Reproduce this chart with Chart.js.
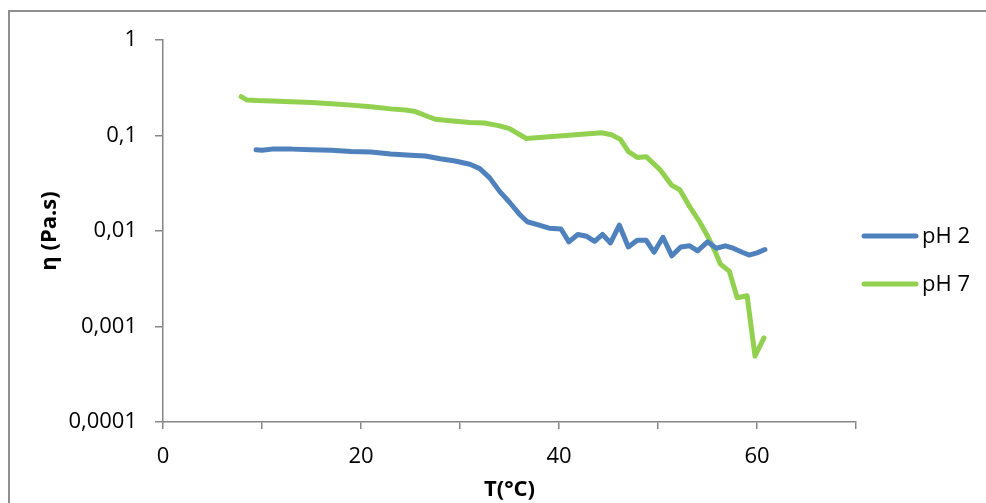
<!DOCTYPE html>
<html>
<head>
<meta charset="utf-8">
<script src="https://cdn.jsdelivr.net/npm/chart.js@4.4.1/dist/chart.umd.min.js"></script>
<style>
  html, body { margin: 0; padding: 0; background: #fff; }
  #wrap { position: relative; width: 986px; height: 503px; overflow: hidden; }
  #frame { position: absolute; left: 8px; top: 10px; width: 1000px; height: 600px; border: 2px solid #8f8f8f; box-sizing: border-box; }
  #viscoChart { position: absolute; left: 0; top: 0; }
</style>
</head>
<body>
<div id="wrap">
  <div id="frame"></div>
  <canvas id="viscoChart" width="986" height="503"></canvas>
</div>
<script>
/*
  viscosity vs temperature, pH 2 and pH 7
*/

const seriesNames = ['pH 2', 'pH 7']

// pH 2 curve
const tempPH2 = [9.4, 10, 11, 13, 15, 17, 19, 21, 23, 25, 26.5, 28, 29.5, 31, 32, 33, 34, 35, 36, 36.8,
    38, 39, 40.2, 41, 41.9, 42.8, 43.6, 44.4, 45.2, 46.1, 47, 47.9, 48.8, 49.6, 50.5, 51.4, 52.3,
    53.2, 54, 55, 55.9, 56.8, 57.6, 58.5, 59.2, 60, 60.8]
const etaPH2 = [0.071, 0.070, 0.072, 0.072, 0.071, 0.070, 0.068, 0.067, 0.064, 0.062, 0.061, 0.057, 0.054,
    0.050, 0.045, 0.036, 0.026, 0.020, 0.015, 0.0125, 0.0115, 0.0107, 0.0105, 0.0077, 0.0092, 0.0088,
    0.0078, 0.0092, 0.0075, 0.0115, 0.0068, 0.0080, 0.0080, 0.0060, 0.0086, 0.0055, 0.0068, 0.0070,
    0.0062, 0.0077, 0.0066, 0.0070, 0.0066, 0.0060, 0.0056, 0.0059, 0.0064]

// pH 7 curve
const tempPH7 = [7.9, 8.5, 9.5, 11, 13, 15, 17, 19, 21, 23, 24.5, 25.5, 26.5, 27.5, 29, 31, 32.5, 34, 35,
    36.7, 44.3, 45.3, 46.2, 47, 47.9, 48.8, 50.2, 51.4, 52.2, 53.2, 54.2, 55.1, 55.8, 56.3, 57.2, 58,
    59, 59.8, 60.7]
const etaPH7 = [0.255, 0.235, 0.232, 0.230, 0.225, 0.222, 0.215, 0.208, 0.200, 0.190, 0.185, 0.178, 0.162,
    0.148, 0.143, 0.137, 0.135, 0.126, 0.118, 0.093, 0.107, 0.102, 0.091, 0.068, 0.059, 0.060, 0.044,
    0.030, 0.027, 0.018, 0.0125, 0.0085, 0.006, 0.0045, 0.0038, 0.0020, 0.0021, 0.00049, 0.00076]

const yTicks = [0.0001, 0.001, 0.01, 0.1, 1]
const xLabelled = [0, 20, 40, 60]

const lineColors = ['#4f81bd', '#92d050']

function toPoints(xs, ys) {
    return xs.map((x, i) => ({ x: x, y: ys[i] }))
}

const fontName = "'Open Sans', 'Liberation Sans', sans-serif"

// legend drawn at the right like the excel one
const sideLegend = {
    id: 'sideLegend',
    afterDraw(chart) {
        const ctx = chart.ctx
        const rows = [236, 284]
        ctx.save()
        chart.data.datasets.forEach((ds, i) => {
            ctx.strokeStyle = ds.borderColor
            ctx.lineWidth = 5
            ctx.lineCap = 'round'
            ctx.beginPath()
            ctx.moveTo(864, rows[i])
            ctx.lineTo(916, rows[i])
            ctx.stroke()
            ctx.fillStyle = '#000'
            ctx.font = '22px ' + fontName
            ctx.textBaseline = 'middle'
            ctx.textAlign = 'left'
            ctx.fillText(ds.label, 922, rows[i] + 1)
        })
        ctx.restore()
    }
}

let ctx = document.getElementById('viscoChart').getContext('2d')

let viscoChart = new Chart(ctx, {
    type: 'line',
    data: {
        datasets: [{
            label: seriesNames[0],
            data: toPoints(tempPH2, etaPH2),
            borderColor: lineColors[0],
            backgroundColor: lineColors[0],
            borderWidth: 5,
            pointRadius: 0,
            tension: 0,
            borderJoinStyle: 'round',
            borderCapStyle: 'round'
        }, {
            label: seriesNames[1],
            data: toPoints(tempPH7, etaPH7),
            borderColor: lineColors[1],
            backgroundColor: lineColors[1],
            borderWidth: 5,
            pointRadius: 0,
            tension: 0,
            borderJoinStyle: 'round',
            borderCapStyle: 'round'
        }]
    },
    options: {
        responsive: false,
        animation: false,
        layout: { padding: { left: 0, right: 130, top: 40, bottom: 0 } },
        plugins: {
            legend: { display: false },
            tooltip: { enabled: false }
        },
        scales: {
            x: {
                type: 'linear',
                min: 0,
                max: 70,
                afterFit: scale => { scale.height = 81 },
                ticks: {
                    stepSize: 10,
                    autoSkip: false,
                    maxRotation: 0,
                    padding: 15,
                    color: '#000',
                    font: { family: fontName, size: 22 },
                    callback: v => xLabelled.includes(v) ? String(v) : ''
                },
                grid: { drawOnChartArea: false, drawTicks: true, tickLength: 7, color: '#868686', lineWidth: 1.5 },
                border: { display: true, color: '#868686', width: 1.5 },
                title: {
                    display: true,
                    text: 'T(°C)',
                    color: '#000',
                    font: { family: fontName, size: 22, weight: 'bold' },
                    padding: { top: 0, bottom: 0 }
                }
            },
            y: {
                type: 'logarithmic',
                min: 0.0001,
                max: 1,
                afterFit: scale => { scale.width = 163 },
                afterBuildTicks: scale => { scale.ticks = yTicks.map(v => ({ value: v })) },
                ticks: {
                    padding: 18,
                    color: '#000',
                    font: { family: fontName, size: 22 },
                    callback: v => String(v).replace('.', ',')
                },
                grid: { drawOnChartArea: false, drawTicks: true, tickLength: 8, color: '#868686', lineWidth: 1.5 },
                border: { display: true, color: '#868686', width: 1.5 },
                title: {
                    display: true,
                    text: 'η (Pa.s)',
                    color: '#000',
                    font: { family: fontName, size: 22, weight: 'bold' },
                    padding: { top: 37, bottom: 0 }
                }
            }
        }
    },
    plugins: [sideLegend]
});
</script>
</body>
</html>
